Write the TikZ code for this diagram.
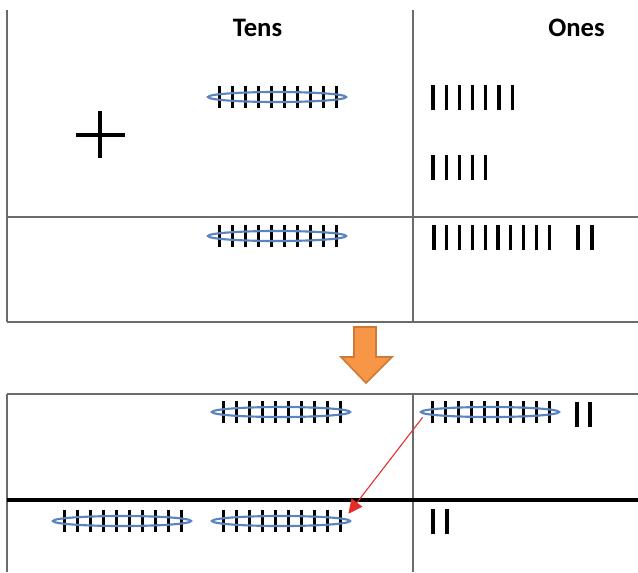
\documentclass[tikz,border=0pt]{standalone}
\usepackage{fontspec}
\setmainfont{Carlito}
\usetikzlibrary{shapes.geometric,arrows.meta}

\definecolor{gridgrey}{HTML}{6B6B6B}
\definecolor{bundleblue}{HTML}{5B84BE}
\definecolor{arrowfill}{HTML}{F79646}
\definecolor{arrowedge}{HTML}{D07835}
\definecolor{movered}{HTML}{E62B2B}

\tikzset{
  gridline/.style={draw=gridgrey, line width=1pt},
  boldline/.style={draw=black, line width=2.5pt},
  bstick/.style={draw=black, line width=2.1pt},
  onestick/.style={draw=black, line width=2.5pt},
  bundle/.style={ellipse, draw=bundleblue, line width=1.6pt, inner sep=0pt,
                 minimum width=103.5pt, minimum height=7.5pt},
  header/.style={font=\bfseries\fontsize{20}{24}\selectfont, anchor=base, inner sep=0pt},
  movearrow/.style={draw=movered, line width=0.8pt, -{Triangle[length=10.5pt,width=10pt]}},
}

% a bundle of ten sticks tied by an ellipse: name, centre x, centre y
\newcommand\tenbundle[3]{%
  \foreach \k in {0,...,9}
    \draw[bstick] ({#2+1-58.5+13*\k},#3-11) -- ++(0,22);
  \node[bundle] (#1) at (#2,#3) {};
}
% loose sticks: first x, top y, count, spacing
\newcommand\loosesticks[4]{%
  \foreach \k in {1,...,#3}
    \draw[onestick] ({#1+#4*(\k-1)},#2) -- ++(0,25);
}

\begin{document}
\begin{tikzpicture}[x=0.75pt, y=-0.75pt]
  \useasboundingbox[fill=white] (0,0) rectangle (638,572);

  % upper place-value table
  \draw[gridline] (7,10) -- (7,322);
  \draw[gridline] (413,10) -- (413,322);
  \draw[gridline] (7,217) -- (638,217);
  \draw[gridline] (7,322) -- (638,322);
  \node[header] (tens) at (257.5,36) {Tens};
  \node[header] (ones) at (576.5,36) {Ones};

  % plus sign
  \draw[line width=3.4pt] (76,135) -- (125,135);
  \draw[line width=3.4pt] (100,111) -- (100,158);

  % addends and sum
  \tenbundle{ta}{277}{97}
  \loosesticks{433}{85}{7}{13.2}
  \loosesticks{433}{155}{5}{13.2}
  \tenbundle{tb}{277}{236}
  \loosesticks{434}{225}{10}{12.8}
  \loosesticks{578}{225}{2}{14}

  % regrouping arrow
  \filldraw[fill=arrowfill, draw=arrowedge, line width=1.2pt, line join=miter]
    (354,327) -- (376,327) -- (376,357) -- (392,357) -- (366,383)
    -- (341,357) -- (354,357) -- cycle;

  % lower table after regrouping
  \draw[gridline] (7,394) -- (638,394);
  \draw[gridline] (7,394) -- (7,572);
  \draw[gridline] (413,394) -- (413,572);
  \draw[boldline] (7,500) -- (638,500);

  \tenbundle{tc}{281}{412}
  \tenbundle{oc}{490}{412}
  \loosesticks{577}{402}{2}{13}

  \tenbundle{td}{122}{521}
  \tenbundle{te}{281}{521}
  \loosesticks{433}{509}{2}{14}

  % ten ones moved into the tens column
  \draw[movearrow] ([xshift=2pt,yshift=-4pt]oc.west) -- ([xshift=-2pt,yshift=5.5pt]te.east);
\end{tikzpicture}
\end{document}
